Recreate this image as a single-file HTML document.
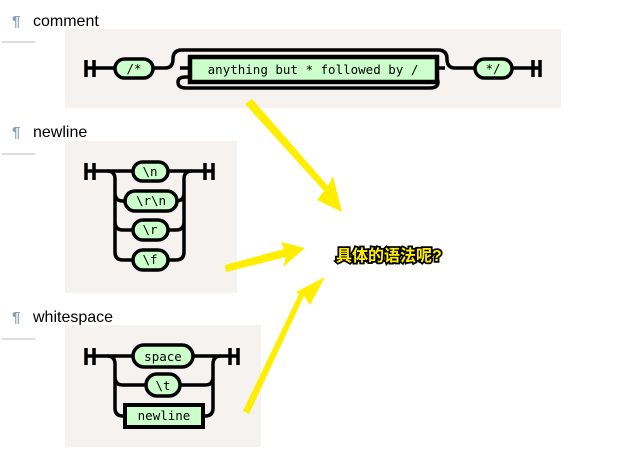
<!DOCTYPE html>
<html><head><meta charset="utf-8"><style>
html,body{margin:0;padding:0;background:#fff;width:617px;height:453px;overflow:hidden}
svg{display:block}
.h{font-family:"Liberation Sans",sans-serif;font-size:16px;fill:#000}
.p{font-family:"Liberation Sans",sans-serif;font-size:15px;fill:#8aa0b8;font-weight:bold}
.t{font-family:"DejaVu Sans Mono","Liberation Mono",monospace;font-size:12.5px;fill:#000;text-anchor:middle}
.l{fill:none;stroke:#000;stroke-width:3.5}
.n{fill:#ccffcc;stroke:#000;stroke-width:3.5}
</style></head><body>
<svg width="617" height="453" viewBox="0 0 617 453">
<text class="p" x="12" y="26">¶</text><text class="h" x="33" y="26">comment</text>
<line x1="2" y1="42" x2="35" y2="42" stroke="#bbb" stroke-width="1"/>
<text class="p" x="12" y="137">¶</text><text class="h" x="33" y="137">newline</text>
<line x1="2" y1="154" x2="35" y2="154" stroke="#bbb" stroke-width="1"/>
<text class="p" x="12" y="322">¶</text><text class="h" x="33" y="322">whitespace</text>
<line x1="2" y1="339" x2="35" y2="339" stroke="#bbb" stroke-width="1"/>

<rect x="65" y="29" width="496" height="79" fill="#f5f2ef"/>
<rect x="65" y="141" width="172" height="152" fill="#f5f2ef"/>
<rect x="65" y="325" width="196" height="122" fill="#f5f2ef"/>

<!-- comment -->
<path class="l" d="M86 60v17M94 60v17M86 68h29M153 68h12q8 0 8-9q0-9 9-9h256q9 0 9 9q0 9 8 9h30M512 68h28M533 60v17M540 60v17"/>
<path class="l" d="M180 68h10M437 68h8M190 77h-4q-8 0-8 5q0 6 8 6h244q8 0 8-6q0-5-8-5h-4"/>
<rect class="n" x="115" y="59" width="38" height="19" rx="9.5"/>
<text class="t" x="134" y="73">/*</text>
<rect x="190" y="57" width="247" height="25" fill="#ccffcc" stroke="#000" stroke-width="4.5"/>
<text class="t" x="313" y="74">anything but * followed by /</text>
<rect class="n" x="475" y="59" width="37" height="19" rx="9.5"/>
<text class="t" x="493" y="73">*/</text>

<!-- newline -->
<path class="l" d="M86 163v17M94 163v17M86 171h47M168 171h45M205 163v17M213 163v17"/>
<path class="l" d="M107 171q8 0 8 8v73q0 8 8 8h10M115 193q0 8 8 8h2M115 222q0 8 8 8h10M168 260h8q8 0 8-8v-73q0-8 8-8M177 201h-1q8 0 8-8M168 230h8q8 0 8-8"/>
<rect class="n" x="133" y="162" width="35" height="19" rx="9.5"/><text class="t" x="150" y="176">\n</text>
<rect class="n" x="125" y="191" width="52" height="20" rx="10"/><text class="t" x="151" y="205">\r\n</text>
<rect class="n" x="133" y="220" width="35" height="20" rx="10"/><text class="t" x="150" y="234">\r</text>
<rect class="n" x="133" y="250" width="35" height="20" rx="10"/><text class="t" x="150" y="264">\f</text>

<!-- whitespace -->
<path class="l" d="M86 348v17M94 348v17M86 356h47M193 356h45M230 348v17M238 348v17"/>
<path class="l" d="M107 356q8 0 8 8v44q0 8 8 8h2M115 377q0 8 8 8h23M180 385h25q8 0 8-8M203 416h2q8 0 8-8v-44q0-8 8-8"/>
<rect class="n" x="133" y="345" width="60" height="22" rx="11"/><text class="t" x="163" y="361">space</text>
<rect class="n" x="146" y="374" width="34" height="22" rx="11"/><text class="t" x="163" y="390">\t</text>
<rect x="125" y="405" width="78" height="22" fill="#ccffcc" stroke="#000" stroke-width="4"/><text class="t" x="164" y="420">newline</text>

<g fill="#ffee00">
<polygon points="245,104 252,99 328,186 333,176 342,212 317,200 324,191"/>
<polygon points="226,272 225,265 284,249 281,242 305,248 283,267 286,257"/>
<polygon points="243,411 249,414 304,296 310,305 325,277 296,292 299,294"/>
</g>
<text x="336" y="261" font-family="'Liberation Sans','Noto Sans CJK SC',sans-serif" font-size="16" font-weight="bold" fill="#ffee00" stroke="#000" stroke-width="3.5" paint-order="stroke">具体的语法呢?</text>
</svg>
</body></html>
